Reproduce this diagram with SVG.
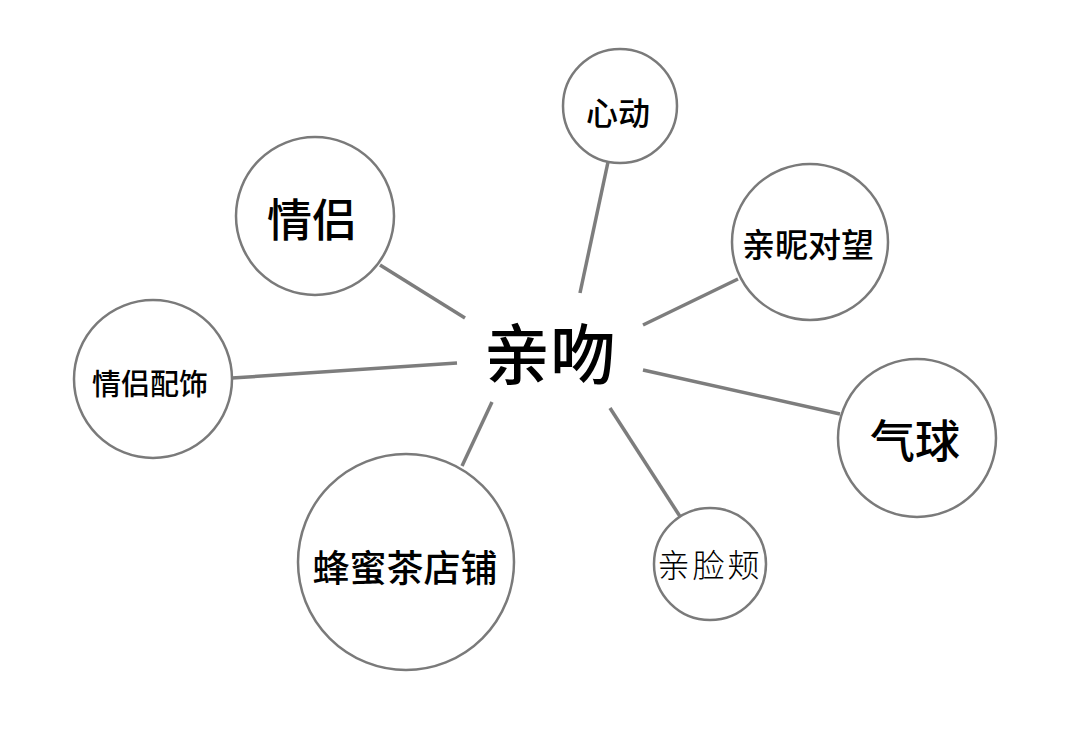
<svg xmlns="http://www.w3.org/2000/svg" width="1080" height="731" viewBox="0 0 1080 731">
<style>
.n{fill:#fff;stroke:#7a7a7a;stroke-width:2.5}
.c line{stroke:#7d7d7d;stroke-width:3.5;stroke-linecap:butt}
text{font-family:"Noto Sans CJK SC","Noto Sans",sans-serif;fill:#000;text-anchor:middle;dominant-baseline:central;font-weight:500}
text.light{font-weight:300}
</style>
<rect width="1080" height="731" fill="#fff"/>
<g id="connectors" class="c">
<line x1="608" y1="162" x2="580" y2="293"/>
<line x1="380" y1="265" x2="465" y2="318"/>
<line x1="738" y1="279" x2="643" y2="325"/>
<line x1="232" y1="378" x2="457" y2="363"/>
<line x1="840" y1="414" x2="643" y2="370"/>
<line x1="462" y1="466" x2="492" y2="402"/>
<line x1="681" y1="518" x2="610" y2="408"/>
</g>
<g id="center"><text x="550" y="350" font-size="66">亲吻</text></g>
<g id="xindong"><circle class="n" cx="620" cy="106" r="57"/><text x="618" y="111" font-size="32">心动</text></g>
<g id="qinglv"><circle class="n" cx="315" cy="216" r="79"/><text x="312" y="217" font-size="45">情侣</text></g>
<g id="qinni"><circle class="n" cx="810" cy="242" r="78"/><text x="808" y="243" font-size="33">亲昵对望</text></g>
<g id="peishi"><circle class="n" cx="153" cy="379" r="79"/><text x="150" y="382" font-size="29">情侣配饰</text></g>
<g id="qiqiu"><circle class="n" cx="917" cy="438" r="79"/><text x="915" y="438" font-size="45">气球</text></g>
<g id="fengmi"><circle class="n" cx="406" cy="562" r="108"/><text x="405" y="566" font-size="37">蜂蜜茶店铺</text></g>
<g id="lianjia"><circle class="n" cx="710" cy="564" r="56"/><text class="light" x="710" y="563" font-size="32" letter-spacing="3">亲脸颊</text></g>
</svg>
